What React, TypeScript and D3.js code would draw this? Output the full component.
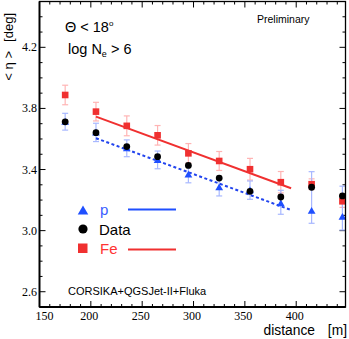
import React from "react";
import * as d3 from "d3";

// ---- data ----
const distances = [175, 205, 235, 265, 295, 325, 355, 385, 415, 445];
const feMean = [3.888, 3.779, 3.686, 3.624, 3.506, 3.456, 3.402, 3.317, 3.304, 3.192];
const feErr = [0.064, 0.061, 0.065, 0.064, 0.064, 0.062, 0.071, 0.07, 0.035, 0.04];
const dataMean = [3.712, 3.641, 3.55, 3.484, 3.427, 3.344, 3.257, 3.22, 3.284, 3.227];
const pMean = [3.713, 3.643, 3.539, 3.463, 3.368, 3.285, 3.265, 3.179, 3.131, 3.091];
const pErrLow = [0.055, 0.06, 0.055, 0.058, 0.055, 0.058, 0.06, 0.072, 0.083, 0.087];
const pErrHigh = [0.055, 0.06, 0.055, 0.058, 0.055, 0.058, 0.06, 0.085, 0.255, 0.2];
const feFit: [number, number][] = [[205, 3.746], [395, 3.277]];
const pFit: [number, number][] = [[205, 3.605], [395, 3.135]];
const xMajorTicks = [150, 200, 250, 300, 350, 400];
const yMajorTicks = [2.6, 3.0, 3.4, 3.8, 4.2];
const legendItems = ["p", "Data", "Fe"];

const W = 349, H = 339;
const RED = "#f03030", BLUE = "#1f4fff";
const RED_ERR = "#ffb4b4", BLUE_ERR = "#a8b8ff";
const SANS = "'Liberation Sans', Arial, sans-serif";
const SERIF = "'Liberation Serif', 'Times New Roman', serif";

export default function App() {
  const x = d3.scaleLinear().domain([150, 448]).range([39.5, 345.5]);
  const y = d3.scaleLinear().domain([2.5, 4.5]).range([307, 1.5]);
  const left = x.range()[0], right = x.range()[1];
  const bottom = y.range()[0], top = y.range()[1];

  const xMinor = d3.range(150, 448, 10);
  const yMinor = d3.range(25, 46, 1).map((v) => v / 10);
  const line = d3.line<[number, number]>().x((d) => x(d[0])).y((d) => y(d[1]));
  const tri = d3.symbol().type(d3.symbolTriangle).size(26)();
  const triLeg = d3.symbol().type(d3.symbolTriangle).size(48)();

  const cap = 3;
  return (
    <svg width={W} height={H} style={{ position: "fixed", left: 0, top: 0, background: "#fff" }}>
      <rect x={0} y={0} width={W} height={H} fill="#fff" />
      {/* ticks */}
      {xMinor.map((v) => {
        const major = xMajorTicks.includes(v);
        const L = major ? 6 : 3;
        return (
          <g key={"xt" + v} stroke="#000" strokeWidth={1}>
            <line x1={x(v)} x2={x(v)} y1={bottom} y2={bottom - L} />
            <line x1={x(v)} x2={x(v)} y1={top} y2={top + L} />
          </g>
        );
      })}
      {yMinor.map((v) => {
        const major = yMajorTicks.some((t) => Math.abs(t - v) < 1e-6);
        const L = major ? 6 : 3;
        return (
          <g key={"yt" + v} stroke="#000" strokeWidth={1}>
            <line x1={left} x2={left + L} y1={y(v)} y2={y(v)} />
            <line x1={right} x2={right - L} y1={y(v)} y2={y(v)} />
          </g>
        );
      })}
      {/* tick labels */}
      {xMajorTicks.map((v, i) => (
        <text key={"xl" + v} x={i === 0 ? x(v) + 5 : x(v) - 1.5} y={320} fontFamily={SERIF} fontSize={12} textAnchor="middle">
          {v}
        </text>
      ))}
      {yMajorTicks.map((v) => (
        <text key={"yl" + v} x={37} y={y(v) + 4} fontFamily={SERIF} fontSize={12} textAnchor="end">
          {v.toFixed(1)}
        </text>
      ))}
      {/* error bars */}
      {distances.map((d, i) => (
        <g key={"fe" + d} stroke={RED_ERR} strokeWidth={1.2}>
          <line x1={x(d)} x2={x(d)} y1={y(feMean[i] - feErr[i])} y2={y(feMean[i] + feErr[i])} />
          <line x1={x(d) - cap} x2={x(d) + cap} y1={y(feMean[i] - feErr[i])} y2={y(feMean[i] - feErr[i])} />
          <line x1={x(d) - cap} x2={x(d) + cap} y1={y(feMean[i] + feErr[i])} y2={y(feMean[i] + feErr[i])} />
        </g>
      ))}
      {distances.map((d, i) => (
        <g key={"pe" + d} stroke={BLUE_ERR} strokeWidth={1.2}>
          <line x1={x(d)} x2={x(d)} y1={y(pMean[i] - pErrLow[i])} y2={y(pMean[i] + pErrHigh[i])} />
          <line x1={x(d) - cap} x2={x(d) + cap} y1={y(pMean[i] - pErrLow[i])} y2={y(pMean[i] - pErrLow[i])} />
          <line x1={x(d) - cap} x2={x(d) + cap} y1={y(pMean[i] + pErrHigh[i])} y2={y(pMean[i] + pErrHigh[i])} />
        </g>
      ))}
      {/* fits */}
      <path d={line(feFit) || ""} stroke={RED} strokeWidth={2} fill="none" />
      <path d={line(pFit) || ""} stroke="#2244ee" strokeWidth={2} strokeDasharray="3,2.5" fill="none" />
      {/* markers */}
      {distances.map((d, i) => (
        <rect key={"fm" + d} x={x(d) - 3.3} y={y(feMean[i]) - 3.3} width={6.6} height={6.6} fill={RED} />
      ))}
      {distances.map((d, i) => (
        <path key={"pm" + d} d={tri || ""} transform={`translate(${x(d)},${y(pMean[i]) + 0.8})`} fill={BLUE} />
      ))}
      {distances.map((d, i) => (
        <circle key={"dm" + d} cx={x(d)} cy={y(dataMean[i])} r={3.4} fill="#000" />
      ))}
      {/* frame */}
      <rect x={left} y={top} width={right - left} height={bottom - top} fill="none" stroke="#000" strokeWidth={1.3} />
      <line x1={left} x2={left} y1={top} y2={bottom} stroke="#000" strokeWidth={1.8} />
      <line x1={left} x2={right} y1={bottom} y2={bottom} stroke="#000" strokeWidth={1.8} />
      {/* axis titles */}
      <text transform="translate(12.5,13) rotate(-90)" textAnchor="end" fontFamily={SANS} fontSize={13}>[deg]</text>
      <text transform="translate(12.5,51) rotate(-90)" textAnchor="end" fontFamily={SANS} fontSize={13}>{"< η >"}</text>
      <text x={315} y={335} textAnchor="end" fontFamily={SANS} fontSize={13.8}>distance</text>
      <text x={347} y={335} textAnchor="end" fontFamily={SANS} fontSize={13.8}>[m]</text>
      {/* annotations */}
      <text x={65} y={32} fontFamily={SANS} fontSize={14.5}>
        Θ &lt; 18<tspan fontSize={8} dy={-6}>o</tspan>
      </text>
      <text x={68} y={54} fontFamily={SANS} fontSize={14.5}>
        log N<tspan fontSize={9} dy={3}>e</tspan><tspan dy={-3}> &gt; 6</tspan>
      </text>
      <text x={257} y={23} fontFamily={SANS} fontSize={10.5}>Preliminary</text>
      <text x={68} y={295} fontFamily={SANS} fontSize={11}>CORSIKA+QGSJet-II+Fluka</text>
      {/* legend */}
      <path d={triLeg || ""} transform="translate(83,211.5)" fill={BLUE} />
      <circle cx={83} cy={229} r={4.6} fill="#000" />
      <rect x={78} y={243.5} width={9.5} height={9.5} fill={RED} />
      <text x={100} y={215} fontFamily={SANS} fontSize={15} fill="#3a5cff">{legendItems[0]}</text>
      <text x={99} y={234.5} fontFamily={SANS} fontSize={15} fill="#000">{legendItems[1]}</text>
      <text x={100} y={253.5} fontFamily={SANS} fontSize={15} fill="#ff3333">{legendItems[2]}</text>
      <line x1={128} x2={176} y1={209.5} y2={209.5} stroke={BLUE} strokeWidth={2} />
      <line x1={128} x2={176} y1={249.5} y2={249.5} stroke={RED} strokeWidth={2} />
    </svg>
  );
}
